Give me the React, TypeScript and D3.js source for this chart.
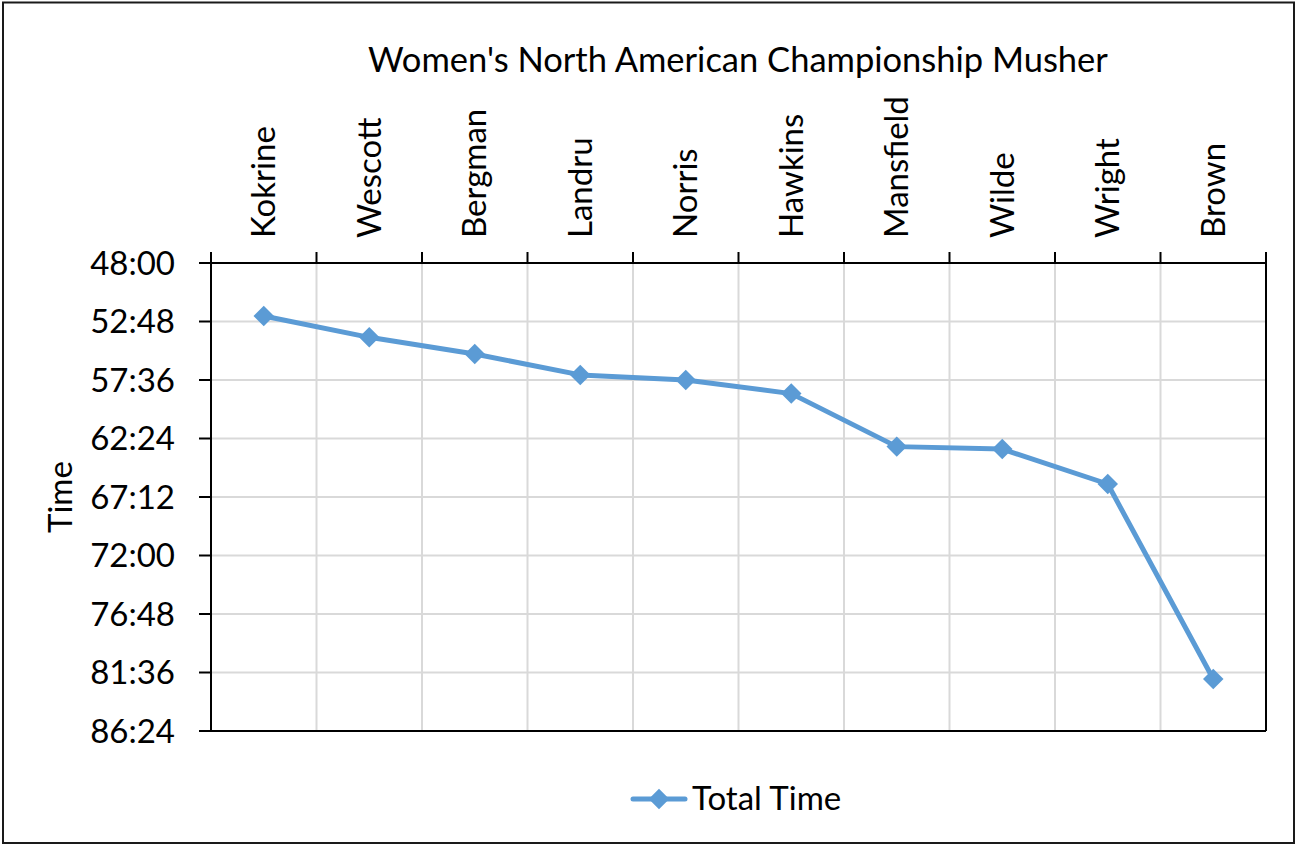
import { useEffect, useRef } from "react";
import * as d3 from "d3";

const mushers = ["Kokrine", "Wescott", "Bergman", "Landru", "Norris", "Hawkins", "Mansfield", "Wilde", "Wright", "Brown"];
const totalTimes = ["52:21", "54:06", "55:28", "57:11", "57:36", "58:43", "63:04", "63:16", "66:08", "82:08"];
const yTicks = ["48:00", "52:48", "57:36", "62:24", "67:12", "72:00", "76:48", "81:36", "86:24"];

const toHours = (s: string) => {
  const [h, m] = s.split(":").map(Number);
  return h + m / 60;
};

function App() {
  const chartRef = useRef<SVGSVGElement>(null);

  useEffect(() => {
    const W = 1298, H = 846;
    const left = 211, right = 1266, top = 263, bottom = 731;
    const font = "Lato, 'Open Sans', sans-serif";
    const fs = 33;
    const blue = "#5B9BD5";

    const svg = d3.select(chartRef.current);
    svg.selectAll("*").remove();
    svg.attr("width", W).attr("height", H);

    svg.append("rect").attr("width", W).attr("height", H).attr("fill", "white");
    svg.append("rect")
      .attr("x", 3).attr("y", 2.5).attr("width", 1291).attr("height", 840.5)
      .attr("fill", "none").attr("stroke", "#1a1a1a").attr("stroke-width", 2);

    const x = d3.scaleBand().domain(mushers).range([left, right]);
    const y = d3.scaleLinear().domain([48, 86.4]).range([top, bottom]);
    const tickVals = yTicks.map(toHours);

    // grid
    const grid = svg.append("g").attr("stroke", "#d9d9d9").attr("stroke-width", 2);
    grid.selectAll("line.h")
      .data(tickVals.slice(1, -1))
      .join("line")
      .attr("x1", left).attr("x2", right)
      .attr("y1", (d) => y(d)).attr("y2", (d) => y(d));
    grid.selectAll("line.v")
      .data(mushers.slice(1))
      .join("line")
      .attr("x1", (d) => x(d)!).attr("x2", (d) => x(d)!)
      .attr("y1", top).attr("y2", bottom);

    // axes frame
    const ax = svg.append("g").attr("stroke", "black").attr("stroke-width", 2);
    ax.append("line").attr("x1", left).attr("x2", right).attr("y1", top).attr("y2", top);
    ax.append("line").attr("x1", left - 12).attr("x2", right).attr("y1", bottom).attr("y2", bottom);
    ax.append("line").attr("x1", left).attr("x2", left).attr("y1", top).attr("y2", bottom);
    ax.append("line").attr("x1", right).attr("x2", right).attr("y1", top).attr("y2", bottom);
    ax.selectAll("line.yt")
      .data(tickVals)
      .join("line")
      .attr("x1", left - 12).attr("x2", left)
      .attr("y1", (d) => y(d)).attr("y2", (d) => y(d));
    const bounds = mushers.map((m) => x(m)!).concat([right]);
    ax.selectAll("line.xt")
      .data(bounds)
      .join("line")
      .attr("x1", (d) => d).attr("x2", (d) => d)
      .attr("y1", top - 11).attr("y2", top);

    // y tick labels
    svg.append("g")
      .selectAll("text")
      .data(yTicks)
      .join("text")
      .attr("x", 175)
      .attr("y", (d) => y(toHours(d)))
      .attr("dy", "0.35em")
      .attr("text-anchor", "end")
      .attr("font-family", font).attr("font-size", fs).attr("fill", "black")
      .text((d) => d);

    // category labels (top, rotated)
    svg.append("g")
      .selectAll("text")
      .data(mushers)
      .join("text")
      .attr("transform", (d) => `translate(${x(d)! + x.bandwidth() / 2},238) rotate(-90)`)
      .attr("dy", "0.35em")
      .attr("font-family", font).attr("font-size", fs).attr("fill", "black")
      .text((d) => d);

    // title
    svg.append("text")
      .attr("x", 738).attr("y", 72)
      .attr("text-anchor", "middle")
      .attr("font-family", font).attr("font-size", 34.5).attr("fill", "black")
      .text("Women's North American Championship Musher");

    // y axis title
    svg.append("text")
      .attr("transform", "translate(72,497) rotate(-90)")
      .attr("text-anchor", "middle")
      .attr("font-family", font).attr("font-size", fs).attr("fill", "black")
      .text("Time");

    // series
    const line = d3.line<string>()
      .x((d, i) => x(mushers[i])! + x.bandwidth() / 2)
      .y((d) => y(toHours(d)));
    svg.append("path")
      .datum(totalTimes)
      .attr("fill", "none")
      .attr("stroke", blue)
      .attr("stroke-width", 5)
      .attr("stroke-linejoin", "round")
      .attr("d", line);

    const diamond = d3.symbol(d3.symbolSquare, 210);
    svg.append("g")
      .selectAll("path")
      .data(totalTimes)
      .join("path")
      .attr("transform", (d, i) => `translate(${x(mushers[i])! + x.bandwidth() / 2},${y(toHours(d))}) rotate(45)`)
      .attr("fill", blue)
      .attr("d", diamond);

    // legend
    const lg = svg.append("g");
    lg.append("line")
      .attr("x1", 633).attr("x2", 685).attr("y1", 799).attr("y2", 799)
      .attr("stroke", blue).attr("stroke-width", 5).attr("stroke-linecap", "round");
    lg.append("path")
      .attr("transform", "translate(659,799) rotate(45)")
      .attr("fill", blue)
      .attr("d", diamond);
    lg.append("text")
      .attr("x", 692).attr("y", 810)
      .attr("font-family", font).attr("font-size", fs).attr("fill", "black")
      .text("Total Time");
  }, []);

  return (
    <div style={{ position: "absolute", left: 0, top: 0 }}>
      <svg ref={chartRef} style={{ display: "block" }}></svg>
    </div>
  );
}

export default App;
